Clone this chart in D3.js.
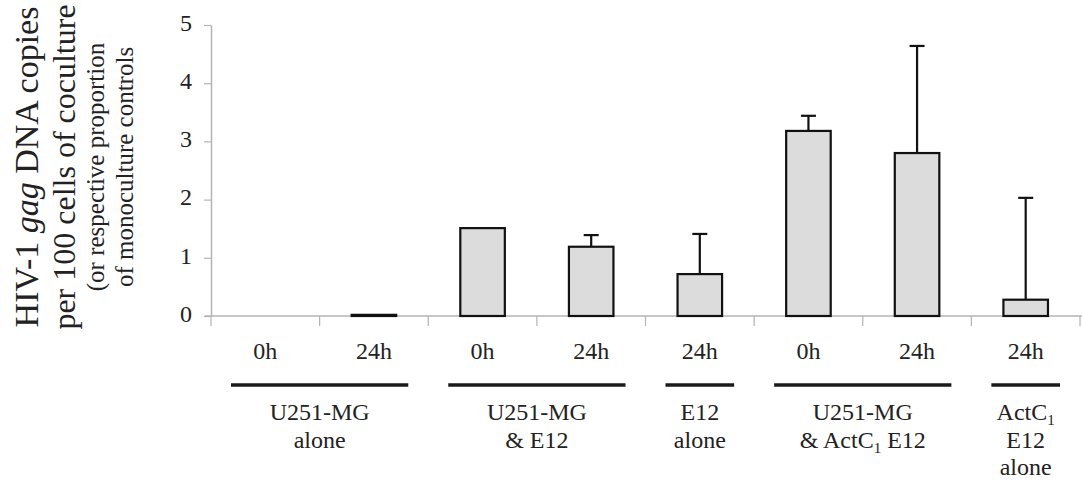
<!DOCTYPE html>
<html>
<head>
<meta charset="utf-8">
<script src="https://cdn.jsdelivr.net/npm/d3@7"></script>
<style>
  html, body { margin: 0; padding: 0; background: #fff; }
  svg { display: block; }
  text { font-family: "Liberation Serif", "Times New Roman", serif; fill: #222; }
</style>
</head>
<body>
<div id="chart"></div>
<script>
(function () {
  // bar categories (time points)
  var categories = ['0h', '24h', '0h', '24h', '24h', '0h', '24h', '24h'];
  // HIV-1 gag DNA copies per 100 cells
  var values = [0, 0.02, 1.51, 1.19, 0.72, 3.18, 2.80, 0.28];
  // upper error (amount above the bar top)
  var errors = [0, 0, 0, 0.20, 0.69, 0.26, 1.84, 1.75];

  var yTicks = [0, 1, 2, 3, 4, 5];

  // groups under the axis: first and last bar index, label lines
  var groupStart = [0, 2, 4, 5, 7];
  var groupEnd = [1, 3, 4, 6, 7];
  var groupLabels = [
    ['U251-MG', 'alone'],
    ['U251-MG', '& E12'],
    ['E12', 'alone'],
    ['U251-MG', '& ActC|1| E12'],
    ['ActC|1|', 'E12', 'alone']
  ];

  var W = 1082, H = 481;
  var left = 211, right = 1080, top = 25, bottom = 316;
  var AXIS = '#b4b4b4';
  var FONT = '"Liberation Serif", "Times New Roman", serif';

  var svg = d3.select('#chart').append('svg')
    .attr('width', W)
    .attr('height', H);

  var x = d3.scaleBand()
    .domain(d3.range(categories.length))
    .range([left, right])
    .padding(0);

  var y = d3.scaleLinear()
    .domain([0, 5])
    .range([bottom, top]);

  var barW = x.bandwidth() * 0.41;

  // y axis
  var yAxis = svg.append('g')
    .attr('transform', 'translate(' + left + ',0)')
    .call(d3.axisLeft(y).tickValues(yTicks).tickFormat(d3.format('d'))
      .tickSize(7).tickSizeOuter(0).tickPadding(12));
  yAxis.select('.domain').attr('stroke', AXIS).attr('stroke-width', 1.5);
  yAxis.selectAll('.tick line').attr('stroke', AXIS).attr('stroke-width', 1.2);
  yAxis.selectAll('.tick text')
    .style('font-family', FONT)
    .attr('font-size', 24)
    .attr('fill', '#222')
    .attr('dy', '0.22em');

  // x axis baseline and separator ticks
  svg.append('line')
    .attr('x1', left - 6).attr('x2', W)
    .attr('y1', y(0)).attr('y2', y(0))
    .attr('stroke', AXIS).attr('stroke-width', 1.5);

  svg.append('g').selectAll('line')
    .data(d3.range(categories.length + 1))
    .join('line')
    .attr('x1', function (i) { return left + i * x.step(); })
    .attr('x2', function (i) { return left + i * x.step(); })
    .attr('y1', y(0))
    .attr('y2', y(0) + 10)
    .attr('stroke', AXIS)
    .attr('stroke-width', 1.2);

  // category labels
  var xAxis = svg.append('g')
    .attr('transform', 'translate(0,' + y(0) + ')')
    .call(d3.axisBottom(x).tickSize(0).tickPadding(26)
      .tickFormat(function (i) { return categories[i]; }));
  xAxis.select('.domain').remove();
  xAxis.selectAll('.tick text')
    .style('font-family', FONT)
    .attr('font-size', 24)
    .attr('fill', '#222');

  // bars
  var idx = d3.range(values.length).filter(function (i) { return values[i] > 0; });

  svg.append('g').selectAll('rect')
    .data(idx)
    .join('rect')
    .attr('x', function (i) { return x(i) + x.bandwidth() / 2 - barW / 2; })
    .attr('y', function (i) { return y(values[i]); })
    .attr('width', barW)
    .attr('height', function (i) { return y(0) - y(values[i]); })
    .attr('fill', '#dcdcdc')
    .attr('stroke', '#111')
    .attr('stroke-width', 2.2);

  // error bars
  var errIdx = d3.range(values.length).filter(function (i) { return errors[i] > 0; });
  var eg = svg.append('g').attr('stroke', '#111').attr('stroke-width', 2.2);
  eg.selectAll('line.v')
    .data(errIdx)
    .join('line')
    .attr('class', 'v')
    .attr('x1', function (i) { return x(i) + x.bandwidth() / 2; })
    .attr('x2', function (i) { return x(i) + x.bandwidth() / 2; })
    .attr('y1', function (i) { return y(values[i]); })
    .attr('y2', function (i) { return y(values[i] + errors[i]); });
  eg.selectAll('line.cap')
    .data(errIdx)
    .join('line')
    .attr('class', 'cap')
    .attr('x1', function (i) { return x(i) + x.bandwidth() / 2 - 7.5; })
    .attr('x2', function (i) { return x(i) + x.bandwidth() / 2 + 7.5; })
    .attr('y1', function (i) { return y(values[i] + errors[i]); })
    .attr('y2', function (i) { return y(values[i] + errors[i]); });

  // group bars and labels
  var lineY = 385;
  groupStart.forEach(function (s, k) {
    var x0 = x(s) + 20;
    var x1 = x(groupEnd[k]) + x.bandwidth() - 20;
    var cx = (x0 + x1) / 2;
    svg.append('line')
      .attr('x1', x0).attr('x2', x1)
      .attr('y1', lineY).attr('y2', lineY)
      .attr('stroke', '#1a1a1a')
      .attr('stroke-width', 3.5);

    groupLabels[k].forEach(function (txt, j) {
      var t = svg.append('text')
        .attr('x', cx)
        .attr('y', lineY + 35 + j * 27.5)
        .attr('text-anchor', 'middle')
        .attr('font-size', 24);
      // '|1|' marks a subscript
      var parts = txt.split('|');
      parts.forEach(function (p, n) {
        if (!p) return;
        if (n % 2 === 1) {
          t.append('tspan').attr('font-size', 15).attr('dy', 5).text(p);
        } else {
          t.append('tspan').attr('dy', n > 0 ? -5 : 0).text(p);
        }
      });
    });
  });

  // y axis title
  var titleY = 167;
  var title = [
    { x: 38, size: 34, parts: [['HIV-1 ', false], ['gag', true], [' DNA copies', false]] },
    { x: 75, size: 32, parts: [['per 100 cells of coculture', false]] },
    { x: 104, size: 25, parts: [['(or respective proportion', false]] },
    { x: 133, size: 25, parts: [['of monoculture controls', false]] }
  ];
  title.forEach(function (l) {
    var t = svg.append('text')
      .attr('transform', 'translate(' + l.x + ',' + titleY + ') rotate(-90)')
      .attr('text-anchor', 'middle')
      .attr('font-size', l.size);
    l.parts.forEach(function (p) {
      t.append('tspan')
        .attr('font-style', p[1] ? 'italic' : 'normal')
        .text(p[0]);
    });
  });
})();
</script>
</body>
</html>
